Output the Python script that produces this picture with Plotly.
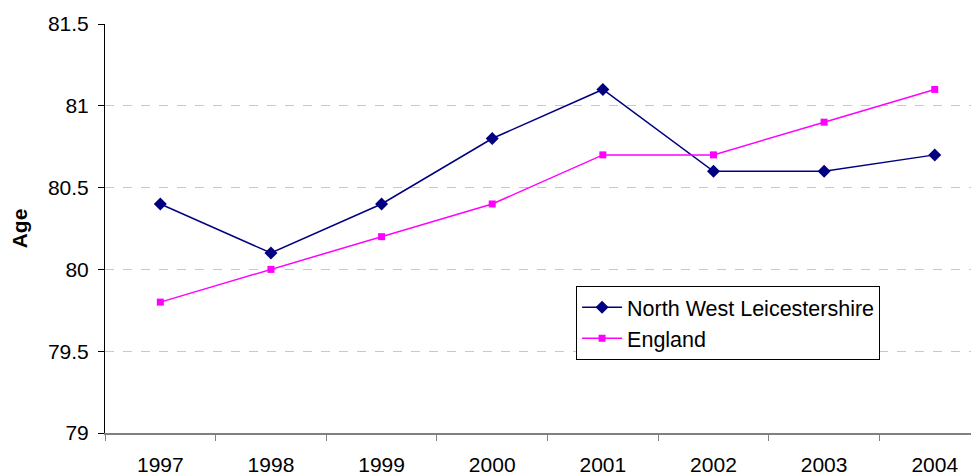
import plotly.graph_objects as go

years = ["1997", "1998", "1999", "2000", "2001", "2002", "2003", "2004"]
nwl = [80.4, 80.1, 80.4, 80.8, 81.1, 80.6, 80.6, 80.7]
england = [79.8, 80.0, 80.2, 80.4, 80.7, 80.7, 80.9, 81.1]
y_ticks = [79, 79.5, 80, 80.5, 81, 81.5]
y_tick_text = ["79", "79.5", "80", "80.5", "81", "81.5"]

FONT = "Liberation Sans, Arial, sans-serif"
FS = 21

fig = go.Figure()
fig.add_trace(go.Scatter(
    x=years, y=nwl, name="North West Leicestershire", mode="lines+markers",
    line=dict(color="#000080", width=1.5),
    marker=dict(symbol="diamond", size=10, color="#000080"),
))
fig.add_trace(go.Scatter(
    x=years, y=england, name="England", mode="lines+markers",
    line=dict(color="#FF00FF", width=1.5),
    marker=dict(symbol="square", size=7, color="#FF00FF"),
))

# page body has an 8px margin, so the figure is sized to fit the window
fig.update_layout(
    width=971, height=467,
    margin=dict(l=97, r=0, t=16, b=42, autoexpand=False),
    paper_bgcolor="white", plot_bgcolor="white",
    font=dict(family=FONT, size=FS, color="black"),
    showlegend=True,
    legend=dict(
        x=0.539, y=0.36, xanchor="left", yanchor="top",
        bgcolor="white", bordercolor="black", borderwidth=1,
        font=dict(family=FONT, size=21.5, color="black"),
        tracegroupgap=0, itemwidth=40,
    ),
    xaxis=dict(
        type="category", range=[-0.5, 7.4], automargin=False,
        showline=True, linecolor="#808080", linewidth=1.5,
        ticks="outside", tickson="boundaries", ticklen=6, tickcolor="#808080",
        showgrid=False, zeroline=False, ticklabelstandoff=12,
        tickfont=dict(family=FONT, size=FS, color="black"),
    ),
    yaxis=dict(
        range=[79, 81.5], tickvals=y_ticks, ticktext=y_tick_text, automargin=False,
        showline=True, linecolor="black", linewidth=1,
        ticks="outside", ticklen=6, tickcolor="black",
        showgrid=True, gridcolor="#c8c8c8", griddash="dash", gridwidth=1,
        zeroline=False, ticklabelstandoff=5,
        tickfont=dict(family=FONT, size=FS, color="black"),
        title=dict(text="<b>Age</b>", font=dict(family=FONT, size=FS, color="black"), standoff=17),
    ),
)

fig.write_html("out.html")
